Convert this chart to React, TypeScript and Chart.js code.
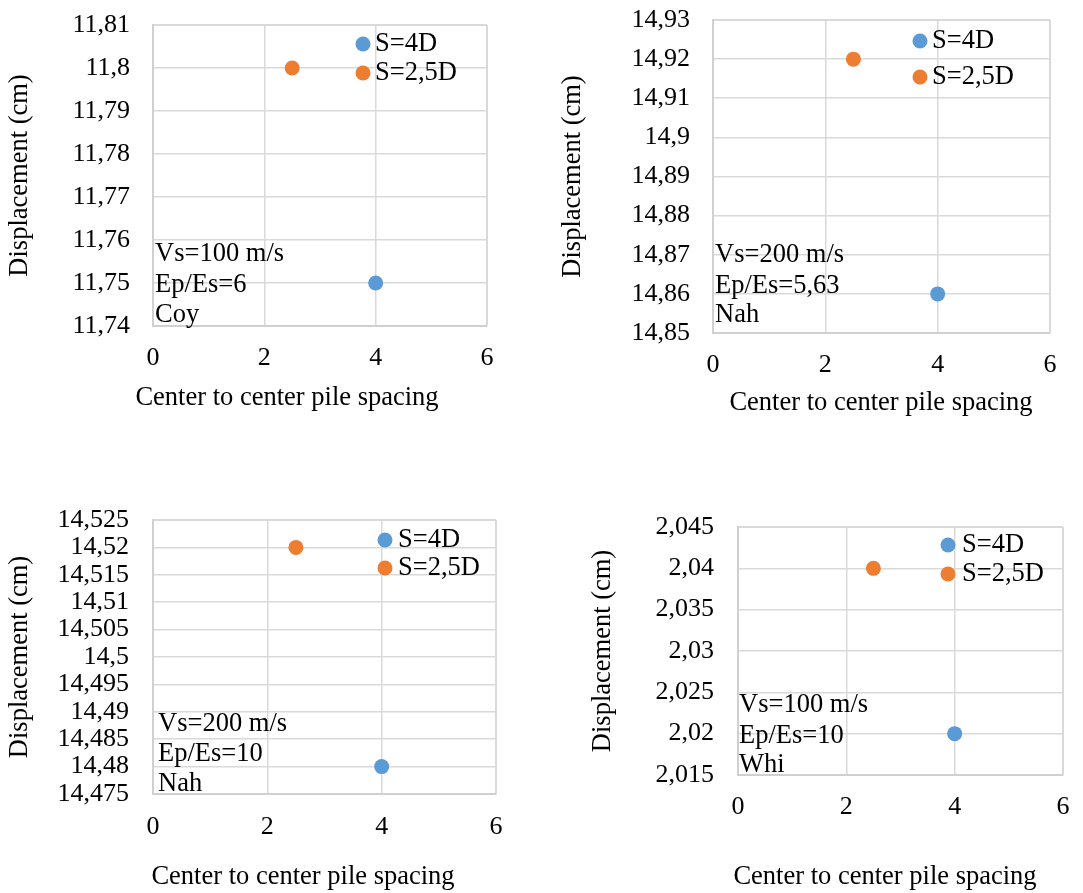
import React, { useEffect, useRef } from 'react';
import { Chart, registerables } from 'chart.js';

Chart.register(...registerables);

const FONT = "'Liberation Serif', 'Times New Roman', serif";

// ---- data ----
const seriesLabels = ['S=4D', 'S=2,5D'];
const seriesColors = ['#5B9BD5', '#ED7D31'];
const spacing4D = [4, 4, 4, 4];
const spacing25D = [2.5, 2.5, 2.5, 2.5];
const displacement4D = [11.75, 14.86, 14.48, 2.02];
const displacement25D = [11.8, 14.92, 14.52, 2.04];
const xTicks = [0, 2, 4, 6];
const yTicksA = [11.74, 11.75, 11.76, 11.77, 11.78, 11.79, 11.8, 11.81];
const yTicksB = [14.85, 14.86, 14.87, 14.88, 14.89, 14.9, 14.91, 14.92, 14.93];
const yTicksC = [14.475, 14.48, 14.485, 14.49, 14.495, 14.5, 14.505, 14.51, 14.515, 14.52, 14.525];
const yTicksD = [2.015, 2.02, 2.025, 2.03, 2.035, 2.04, 2.045];
const yTickSets = [yTicksA, yTicksB, yTicksC, yTicksD];
const vsLabels = ['Vs=100 m/s', 'Vs=200 m/s', 'Vs=200 m/s', 'Vs=100 m/s'];
const ratioLabels = ['Ep/Es=6', 'Ep/Es=5,63', 'Ep/Es=10', 'Ep/Es=10'];
const siteLabels = ['Coy', 'Nah', 'Nah', 'Whi'];
const xTitle = 'Center to center pile spacing';
const yTitle = 'Displacement (cm)';

// ---- layout (positions only) ----
const panels = [
  { left: 0, top: 0, w: 540, h: 440, pad: { top: 25, right: 53, bottom: 14, left: 0 }, yW: 153, xH: 100, yTickPad: 23, xTickPad: 17, yTitlePad: 4, xTitleX: 287, xTitleY: 398, dotX: 363, textX: 375, legendY: [44, 73], noteX: 155, noteY: [254, 285, 315] },
  { left: 540, top: 0, w: 543, h: 440, pad: { top: 20, right: 33, bottom: 7, left: 0 }, yW: 173, xH: 100, yTickPad: 23, xTickPad: 17, yTitlePad: 17, xTitleX: 341, xTitleY: 403, dotX: 380, textX: 392, legendY: [41, 77], noteX: 175, noteY: [255, 286, 315] },
  { left: 0, top: 440, w: 560, h: 453, pad: { top: 80, right: 64, bottom: 9, left: 0 }, yW: 153, xH: 90, yTickPad: 24, xTickPad: 18, yTitlePad: 4, xTitleX: 303, xTitleY: 437, dotX: 385, textX: 398, legendY: [100, 128], noteX: 158, noteY: [284, 314, 344] },
  { left: 560, top: 440, w: 523, h: 453, pad: { top: 87, right: 20, bottom: 18, left: 0 }, yW: 178, xH: 100, yTickPad: 24, xTickPad: 17, yTitlePad: 27, xTitleX: 325, xTitleY: 437, dotX: 388, textX: 402, legendY: [105, 134], noteX: 179, noteY: [265, 296, 325] },
];

const fmt = (v: number) => String(Number(v.toFixed(4))).replace('.', ',');

const overlayPlugin = {
  id: 'overlay',
  afterDraw(chart: any, _args: any, opts: any) {
    const ctx = chart.ctx;
    ctx.save();
    ctx.font = `26.5px ${FONT}`;
    ctx.textBaseline = 'middle';
    chart.data.datasets.forEach((ds: any, i: number) => {
      const y = opts.legendY[i];
      ctx.beginPath();
      ctx.arc(opts.dotX, y, 7.5, 0, Math.PI * 2);
      ctx.fillStyle = ds.backgroundColor;
      ctx.fill();
      ctx.fillStyle = '#000';
      ctx.textAlign = 'left';
      ctx.fillText(ds.label, opts.textX, y);
    });
    ctx.fillStyle = '#000';
    ctx.textAlign = 'left';
    opts.lines.forEach((t: string, j: number) => ctx.fillText(t, opts.noteX, opts.noteY[j]));
    ctx.textAlign = 'center';
    ctx.fillText(opts.xTitle, opts.xTitleX, opts.xTitleY);
    ctx.restore();
  },
};

function Panel({ idx }: { idx: number }) {
  const ref = useRef<HTMLCanvasElement>(null);
  const p = panels[idx];
  useEffect(() => {
    if (!ref.current) return;
    const yt = yTickSets[idx];
    const yMin = yt[0];
    const yMax = yt[yt.length - 1];
    const chart = new Chart(ref.current, {
      type: 'scatter',
      data: {
        datasets: [
          {
            label: seriesLabels[0],
            data: [{ x: spacing4D[idx], y: displacement4D[idx] }],
            backgroundColor: seriesColors[0],
            borderWidth: 0,
            pointRadius: 7.5,
            pointHoverRadius: 7.5,
          },
          {
            label: seriesLabels[1],
            data: [{ x: spacing25D[idx], y: displacement25D[idx] }],
            backgroundColor: seriesColors[1],
            borderWidth: 0,
            pointRadius: 7.5,
            pointHoverRadius: 7.5,
          },
        ],
      },
      options: {
        responsive: false,
        animation: false,
        devicePixelRatio: 1,
        layout: { padding: p.pad, autoPadding: false },
        events: [],
        plugins: {
          legend: { display: false },
          tooltip: { enabled: false },
          overlay: {
            legendY: p.legendY,
            dotX: p.dotX,
            textX: p.textX,
            lines: [vsLabels[idx], ratioLabels[idx], siteLabels[idx]],
            noteX: p.noteX,
            noteY: p.noteY,
            xTitle,
            xTitleX: p.xTitleX,
            xTitleY: p.xTitleY,
          },
        } as any,
        scales: {
          x: {
            type: 'linear',
            min: xTicks[0],
            max: xTicks[xTicks.length - 1],
            afterBuildTicks: (s: any) => {
              s.ticks = xTicks.map((v) => ({ value: v }));
            },
            afterFit: (s: any) => {
              s.height = p.xH;
              s.paddingLeft = 0;
              s.paddingRight = 0;
              s.paddingTop = 0;
              s.paddingBottom = 0;
            },
            ticks: {
              autoSkip: false,
              maxRotation: 0,
              padding: p.xTickPad,
              color: '#000',
              font: { family: FONT, size: 26 },
              callback: (v: any) => fmt(Number(v)),
            },
            grid: {
              color: '#D9D9D9',
              lineWidth: (c: any) => (c.tick && c.tick.value === xTicks[xTicks.length - 1] ? 2 : 1.5),
              drawTicks: false,
            },
            border: { display: true, color: '#D0D0D0', width: 2 },
            title: { display: false },
          },
          y: {
            type: 'linear',
            min: yMin,
            max: yMax,
            afterBuildTicks: (s: any) => {
              s.ticks = yt.map((v) => ({ value: v }));
            },
            afterFit: (s: any) => {
              s.width = p.yW;
              s.paddingLeft = 0;
              s.paddingRight = 0;
              s.paddingTop = 0;
              s.paddingBottom = 0;
            },
            ticks: {
              autoSkip: false,
              padding: p.yTickPad,
              color: '#000',
              font: { family: FONT, size: 26 },
              callback: (v: any) => fmt(Number(v)),
            },
            grid: {
              color: '#D9D9D9',
              lineWidth: (c: any) => (c.tick && c.tick.value === yMax ? 2 : 1.5),
              drawTicks: false,
            },
            border: { display: true, color: '#D0D0D0', width: 2 },
            title: {
              display: true,
              text: yTitle,
              color: '#000',
              font: { family: FONT, size: 26.5 },
              padding: { top: p.yTitlePad, bottom: 0 },
            },
          },
        },
      } as any,
      plugins: [overlayPlugin as any],
    });
    return () => chart.destroy();
  }, [idx]);
  return (
    <div style={{ position: 'absolute', left: p.left, top: p.top, width: p.w, height: p.h }}>
      <canvas ref={ref} width={p.w} height={p.h} style={{ display: 'block', width: p.w, height: p.h }} />
    </div>
  );
}

export default function App() {
  return (
    <div style={{ position: 'fixed', left: 0, top: 0, width: 1083, height: 893, background: '#fff', overflow: 'hidden' }}>
      {panels.map((_, i) => (
        <Panel key={i} idx={i} />
      ))}
    </div>
  );
}
